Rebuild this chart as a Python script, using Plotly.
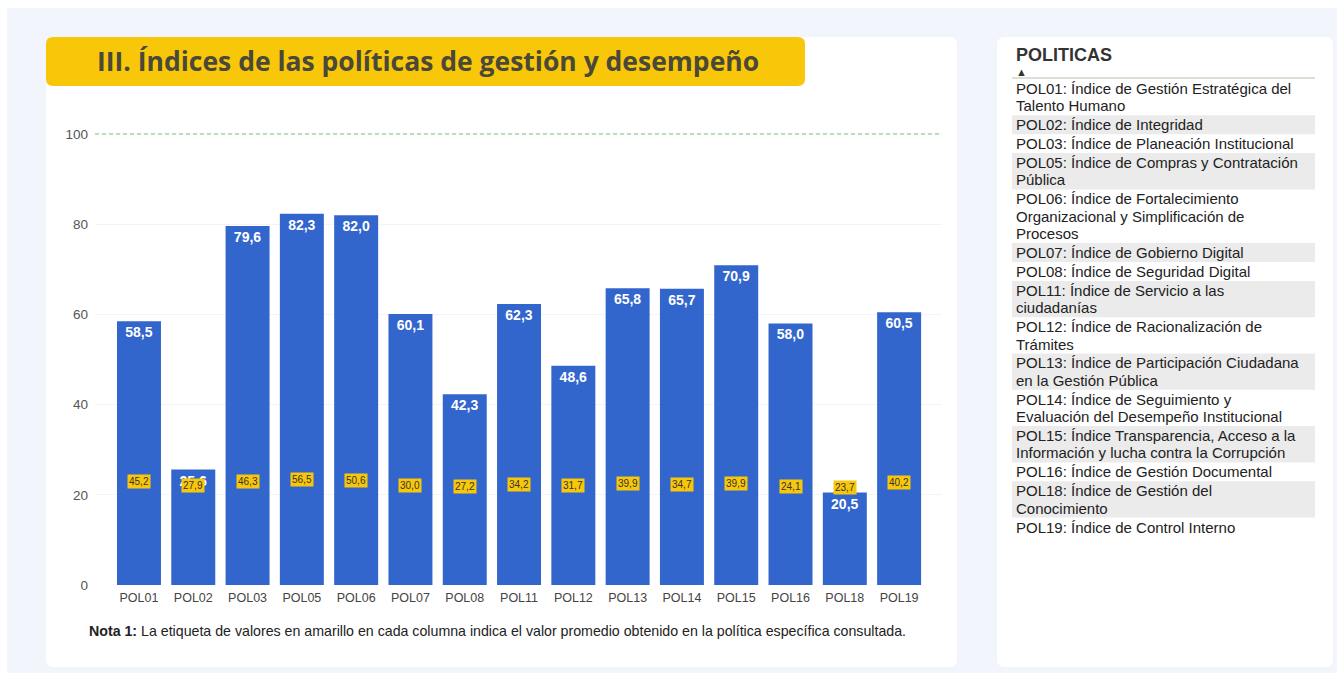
import plotly.graph_objects as go

W, H = 1339, 675
H_LAYOUT = 683  # compensates the slight vertical squeeze seen in the rendered picture

policies = ["POL01", "POL02", "POL03", "POL05", "POL06", "POL07", "POL08", "POL11",
            "POL12", "POL13", "POL14", "POL15", "POL16", "POL18", "POL19"]
values = [58.5, 25.6, 79.6, 82.3, 82.0, 60.1, 42.3, 62.3, 48.6, 65.8, 65.7, 70.9, 58.0, 20.5, 60.5]
averages = [45.2, 27.9, 46.3, 56.5, 50.6, 30.0, 27.2, 34.2, 31.7, 39.9, 34.7, 39.9, 24.1, 23.7, 40.2]
descriptions = [
    ["POL01: Índice de Gestión Estratégica del", "Talento Humano"],
    ["POL02: Índice de Integridad"],
    ["POL03: Índice de Planeación Institucional"],
    ["POL05: Índice de Compras y Contratación", "Pública"],
    ["POL06: Índice de Fortalecimiento", "Organizacional y Simplificación de", "Procesos"],
    ["POL07: Índice de Gobierno Digital"],
    ["POL08: Índice de Seguridad Digital"],
    ["POL11: Índice de Servicio a las", "ciudadanías"],
    ["POL12: Índice de Racionalización de", "Trámites"],
    ["POL13: Índice de Participación Ciudadana", "en la Gestión Pública"],
    ["POL14: Índice de Seguimiento y", "Evaluación del Desempeño Institucional"],
    ["POL15: Índice Transparencia, Acceso a la", "Información y lucha contra la Corrupción"],
    ["POL16: Índice de Gestión Documental"],
    ["POL18: Índice de Gestión del", "Conocimiento"],
    ["POL19: Índice de Control Interno"],
]
yticks = [0, 20, 40, 60, 80, 100]
title_text = "III. Índices de las políticas de gestión y desempeño"
note_text = "<b>Nota 1:</b> La etiqueta de valores en amarillo en cada columna indica el valor promedio obtenido en la política específica consultada."

FONT = "Arial, Liberation Sans, sans-serif"
BLUE = "#3366cc"
YELLOW = "#f8c70a"


def px(x):
    return x / W


def py(y):
    return 1 - y / H


def rounded_rect(x0, y0, x1, y1, r):
    X0, X1 = px(x0), px(x1)
    Y0, Y1 = py(y0), py(y1)
    rx, ry = r / W, r / H
    return (f"M {X0+rx},{Y0} L {X1-rx},{Y0} Q {X1},{Y0} {X1},{Y0-ry} "
            f"L {X1},{Y1+ry} Q {X1},{Y1} {X1-rx},{Y1} L {X0+rx},{Y1} "
            f"Q {X0},{Y1} {X0},{Y1+ry} L {X0},{Y0-ry} Q {X0},{Y0} {X0+rx},{Y0} Z")


fig = go.Figure()
fig.add_trace(go.Bar(
    x=policies, y=values,
    marker=dict(color=BLUE, line=dict(width=0)),
    texttemplate="<b>%{y:.1f}</b>",
    textposition="inside", insidetextanchor="end", textangle=0,
    textfont=dict(color="white", size=14, family=FONT),
    hoverinfo="x+y",
))
fig.add_trace(go.Scatter(x=policies, y=averages, yaxis="y2", mode="markers",
                         marker=dict(opacity=0), hoverinfo="skip", showlegend=False))

shapes = []
shapes.append(dict(type="rect", xref="paper", yref="paper", x0=px(7), x1=px(1337), y0=py(673), y1=py(8),
                   fillcolor="#f2f5fc", line=dict(width=0), layer="below"))
shapes.append(dict(type="path", xref="paper", yref="paper", path=rounded_rect(46, 37, 957, 667, 8),
                   fillcolor="white", line=dict(width=0), layer="below"))
shapes.append(dict(type="path", xref="paper", yref="paper", path=rounded_rect(997, 37, 1333, 667, 8),
                   fillcolor="white", line=dict(width=0), layer="below"))
shapes.append(dict(type="path", xref="paper", yref="paper", path=rounded_rect(46, 37, 805, 86, 7),
                   fillcolor=YELLOW, line=dict(width=0), layer="below"))
shapes.append(dict(type="line", xref="x domain", yref="y", x0=0, x1=1, y0=100, y1=100,
                   line=dict(color="#a5d6a0", width=1.3, dash="4px,3px")))
shapes.append(dict(type="line", xref="paper", yref="paper", x0=px(1012), x1=px(1315), y0=py(78), y1=py(78),
                   line=dict(color="#c0bcae", width=1)))

annotations = []
annotations.append(dict(text=f"<b>{title_text}</b>", xref="paper", yref="paper", x=px(428), y=py(61),
                        showarrow=False, font=dict(family="Open Sans, sans-serif", size=26.5, color="#4a4838"),
                        xanchor="center", yanchor="middle"))
annotations.append(dict(text=note_text, xref="paper", yref="paper", x=px(497), y=py(631),
                        showarrow=False, font=dict(family=FONT, size=14.2, color="#222"),
                        xanchor="center", yanchor="middle"))
for p, a in zip(policies, averages):
    annotations.append(dict(text=f"{a:.1f}".replace(".", ","), x=p, y=a, xref="x", yref="y2",
                            showarrow=False, font=dict(family=FONT, size=10, color="#333"),
                            bgcolor=YELLOW, borderpad=1, xanchor="center", yanchor="middle"))

annotations.append(dict(text="<b>POLITICAS</b>", xref="paper", yref="paper", x=px(1014), y=py(55),
                        showarrow=False, font=dict(family=FONT, size=18, color="#333"),
                        xanchor="left", yanchor="middle"))
annotations.append(dict(text="▲", xref="paper", yref="paper", x=px(1014), y=py(72),
                        showarrow=False, font=dict(family=FONT, size=11, color="#333"),
                        xanchor="left", yanchor="middle"))

top = 79.0
LINE_H, PAD = 17.4, 1.5
for i, lines in enumerate(descriptions):
    n = len(lines)
    h = n * LINE_H + PAD
    if i % 2 == 1:
        shapes.append(dict(type="rect", xref="paper", yref="paper", x0=px(1012), x1=px(1315),
                           y0=py(top + h), y1=py(top), fillcolor="#ebebeb", line=dict(width=0), layer="below"))
    for j, line in enumerate(lines):
        yc = top + PAD / 2 + LINE_H * (j + 0.5)
        annotations.append(dict(text=line, xref="paper", yref="paper", x=px(1014), y=py(yc),
                                showarrow=False, align="left", xanchor="left", yanchor="middle",
                                font=dict(family=FONT, size=15, color="#222")))
    top += h

fig.update_layout(
    width=W, height=H_LAYOUT,
    margin=dict(l=0, r=0, t=0, b=0),
    paper_bgcolor="white", plot_bgcolor="rgba(0,0,0,0)",
    separators=",.",
    showlegend=False,
    bargap=0.19,
    font=dict(family=FONT),
    xaxis=dict(domain=[px(95), px(942)], range=[-0.81, 14.79], showgrid=False, zeroline=False,
               showline=False, ticks="", tickfont=dict(size=12.5, color="#444"), fixedrange=True,
               ticklabelstandoff=3),
    yaxis=dict(domain=[py(585), py(120)], range=[0, 103.1], tickvals=yticks, showgrid=True,
               gridcolor="#f4f4f4", zeroline=False, showline=False, ticks="",
               tickfont=dict(size=13.5, color="#555"), ticklabelstandoff=6),
    yaxis2=dict(domain=[py(585), py(120)], overlaying="y", range=[-378, 1528], visible=False),
    shapes=shapes,
    annotations=annotations,
)

fig.write_html("out.html")
